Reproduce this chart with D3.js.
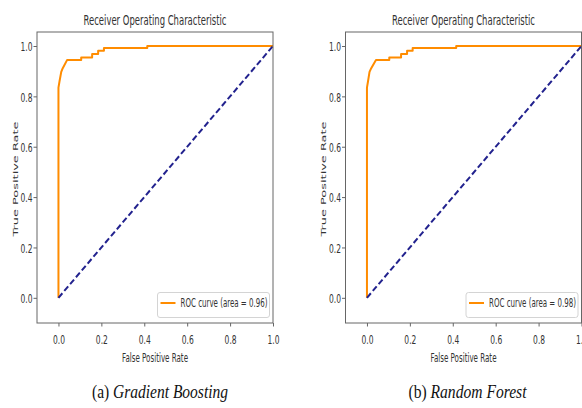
<!DOCTYPE html>
<html>
<head>
<meta charset="utf-8">
<script src="https://cdn.jsdelivr.net/npm/d3@7"></script>
<style>
  html, body { margin: 0; padding: 0; background: #fff; }
  svg { display: block; }
</style>
</head>
<body>
<svg id="chart" width="582" height="408"></svg>
<script>
// ---- data ----
const chartTitle = "Receiver Operating Characteristic";
const xAxisLabel = "False Positive Rate";
const yAxisLabel = "True Positive Rate";
const tickValues = [0.0, 0.2, 0.4, 0.6, 0.8, 1.0];
const tickLabels = ["0.0", "0.2", "0.4", "0.6", "0.8", "1.0"];

const fprGB = [0, 0, 0.005, 0.013, 0.02, 0.04, 0.106, 0.106, 0.157, 0.157, 0.185, 0.185, 0.212, 0.212, 0.414, 0.414, 1.0];
const tprGB = [0, 0.835, 0.86, 0.897, 0.912, 0.944, 0.944, 0.954, 0.954, 0.968, 0.968, 0.981, 0.981, 0.992, 0.992, 1.0, 1.0];
const fprRF = [0, 0, 0.005, 0.012, 0.02, 0.042, 0.104, 0.104, 0.159, 0.159, 0.187, 0.187, 0.213, 0.213, 0.416, 0.416, 1.0];
const tprRF = [0, 0.835, 0.86, 0.897, 0.912, 0.944, 0.944, 0.954, 0.954, 0.968, 0.968, 0.981, 0.981, 0.992, 0.992, 1.0, 1.0];
const chanceX = [0, 1];
const chanceY = [0, 1];

const legendGB = "ROC curve (area = 0.96)";
const legendRF = "ROC curve (area = 0.98)";
const captionTagGB = "(a) ";
const captionNameGB = "Gradient Boosting";
const captionTagRF = "(b) ";
const captionNameRF = "Random Forest";

// ---- drawing ----
const svg = d3.select("#chart");
const textColor = "#333";
const spineColor = "#666";

function drawPanel(opt) {
  const left = opt.left, right = opt.left + 236, top = 32, bottom = 323;
  const x = d3.scaleLinear().domain([-0.1, 1.0]).range([left, right]);
  const y = d3.scaleLinear().domain([-0.1, 1.0556]).range([bottom, top]);
  const g = svg.append("g");

  // curves
  const line = d3.line().x(d => x(d[0])).y(d => y(d[1]));
  g.append("path")
    .datum(d3.zip(opt.fpr, opt.tpr))
    .attr("d", line)
    .attr("fill", "none")
    .attr("stroke", "#ff8c00")
    .attr("stroke-width", 2)
    .attr("stroke-linejoin", "round");
  g.append("path")
    .datum(d3.zip(chanceX, chanceY))
    .attr("d", line)
    .attr("fill", "none")
    .attr("stroke", "#22228e")
    .attr("stroke-width", 2)
    .attr("stroke-dasharray", "6,3");

  // spines
  g.append("rect")
    .attr("x", left).attr("y", top)
    .attr("width", right - left).attr("height", bottom - top)
    .attr("fill", "none").attr("stroke", spineColor).attr("stroke-width", 1);

  // axes
  const xa = g.append("g").attr("transform", `translate(0,${bottom})`)
    .call(d3.axisBottom(x).tickValues(tickValues).tickFormat((d, i) => tickLabels[i]).tickSize(3.5).tickSizeOuter(0));
  const ya = g.append("g").attr("transform", `translate(${left},0)`)
    .call(d3.axisLeft(y).tickValues(tickValues).tickFormat((d, i) => tickLabels[i]).tickSize(3.5).tickSizeOuter(0));
  [xa, ya].forEach(a => {
    a.select(".domain").remove();
    a.selectAll("line").attr("stroke", spineColor);
    a.selectAll("text")
      .attr("fill", textColor)
      .attr("font-family", "DejaVu Sans, sans-serif")
      .attr("font-size", 13)
      .attr("textLength", 12)
      .attr("lengthAdjust", "spacingAndGlyphs");
  });
  xa.selectAll("text").attr("y", 11.5).attr("dy", "0.71em");
  ya.selectAll("text").attr("x", -4.5).attr("dy", "0.36em");

  // title
  g.append("text")
    .attr("x", (left + right) / 2).attr("y", 24.5)
    .attr("text-anchor", "middle")
    .attr("font-family", "DejaVu Sans, sans-serif").attr("font-size", 13.5)
    .attr("fill", textColor)
    .attr("textLength", 143).attr("lengthAdjust", "spacingAndGlyphs")
    .text(chartTitle);

  // x label
  g.append("text")
    .attr("x", (left + right) / 2).attr("y", 362)
    .attr("text-anchor", "middle")
    .attr("font-family", "DejaVu Sans, sans-serif").attr("font-size", 12)
    .attr("fill", textColor)
    .attr("textLength", 66).attr("lengthAdjust", "spacingAndGlyphs")
    .text(xAxisLabel);

  // y label
  g.append("text")
    .attr("transform", `translate(${left - 19.5},179) scale(0.7,1) rotate(-90)`)
    .attr("text-anchor", "middle")
    .attr("font-family", "DejaVu Sans, sans-serif").attr("font-size", 11)
    .attr("fill", textColor)
    .attr("textLength", 115).attr("lengthAdjust", "spacingAndGlyphs")
    .text(yAxisLabel);

  // legend
  const lw = 112, lh = 25;
  const lx = right - 3.5 - lw, ly = bottom - 5.5 - lh;
  g.append("rect")
    .attr("x", lx).attr("y", ly).attr("width", lw).attr("height", lh)
    .attr("rx", 2.5).attr("fill", "#fff").attr("fill-opacity", 0.85)
    .attr("stroke", "#d4d4d4").attr("stroke-width", 1);
  g.append("line")
    .attr("x1", lx + 3).attr("x2", lx + 18)
    .attr("y1", ly + lh / 2 - 2).attr("y2", ly + lh / 2 - 2)
    .attr("stroke", "#ff8c00").attr("stroke-width", 2);
  g.append("text")
    .attr("x", lx + 23).attr("y", ly + lh / 2 - 2).attr("dy", "0.36em")
    .attr("font-family", "DejaVu Sans, sans-serif").attr("font-size", 11.5)
    .attr("fill", textColor)
    .attr("textLength", 87).attr("lengthAdjust", "spacingAndGlyphs")
    .text(opt.legend);

  // caption
  const cap = g.append("text")
    .attr("x", opt.captionX).attr("y", 398)
    .attr("text-anchor", "middle")
    .attr("font-family", "Liberation Serif, serif").attr("font-size", 18)
    .attr("fill", "#111")
    .attr("textLength", opt.captionLen).attr("lengthAdjust", "spacingAndGlyphs");
  cap.append("tspan").text(opt.capTag);
  cap.append("tspan").attr("font-style", "italic").text(opt.capName);
}

drawPanel({ left: 37, fpr: fprGB, tpr: tprGB, legend: legendGB,
  capTag: captionTagGB, capName: captionNameGB, captionX: 160, captionLen: 136 });
drawPanel({ left: 345.5, fpr: fprRF, tpr: tprRF, legend: legendRF,
  capTag: captionTagRF, capName: captionNameRF, captionX: 467.5, captionLen: 118 });
</script>
</body>
</html>
